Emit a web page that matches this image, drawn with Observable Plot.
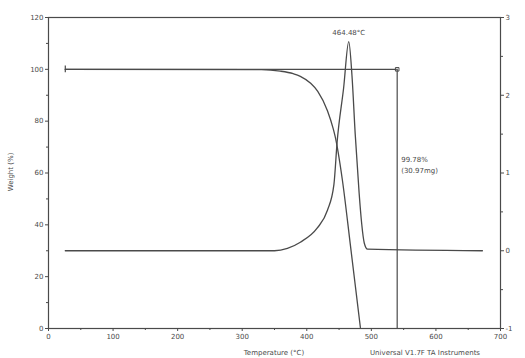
<!DOCTYPE html>
<html>
<head>
<meta charset="utf-8">
<script src="https://cdn.jsdelivr.net/npm/d3@7"></script>
<script src="https://cdn.jsdelivr.net/npm/@observablehq/plot@0.6"></script>
<style>
  body { margin: 0; background: #fff; }
  #chart { width: 525px; height: 358px; }
  svg { font-family: "DejaVu Sans", sans-serif; }
</style>
</head>
<body>
<div id="chart"></div>
<script>
// Weight (%) vs temperature (°C)
const weightT = [26, 330, 359, 379, 390, 406, 417, 432, 441, 444, 455, 468, 483];
const weightW = [100, 99.9, 99.3, 98.3, 97.3, 94.6, 91.5, 84, 77, 74, 57.5, 31.2, 0.4];
// Derivative weight (%/°C) vs temperature
const derivT = [26, 350, 370, 390, 416, 432, 442, 447, 457, 465, 470, 475, 481, 485, 489, 494, 672];
const derivD = [0, 0, 0.03, 0.11, 0.29, 0.52, 0.85, 1.40, 2.09, 2.69, 2.25, 1.50, 0.75, 0.35, 0.10, 0.02, 0];
// Axis ticks
const xTicks = [0, 100, 200, 300, 400, 500, 600, 700];
const yTicks = [0, 20, 40, 60, 80, 100, 120];
const derivTicks = [-1, 0, 1, 2, 3];
// Annotations
const peakLabel = "464.48°C";
const peakT = 465, peakD = 2.69;
const stepT = 540, stepTop = 100, stepBottom = 0;
const stepLabels = ["99.78%", "(30.97mg)"];
const xTitle = "Temperature (°C)";
const yTitle = "Weight (%)";
const footer = "Universal V1.7F TA Instruments";

// map derivative to left-axis units: -1 -> 0 %, 3 -> 120 %
const toW = d => 30 + 30 * d;

const weight = weightT.map((t, i) => ({t, w: weightW[i]}));
const deriv = derivT.map((t, i) => ({t, w: toW(derivD[i])}));

const ink = "#4a4a4a";
const blank = () => "";
const chart = Plot.plot({
  width: 525, height: 358,
  marginLeft: 48, marginRight: 25, marginTop: 17, marginBottom: 30,
  x: {type: "linear", domain: [0, 700]},
  y: {type: "linear", domain: [0, 120]},
  style: {fontSize: "7px", color: ink, background: "#fff"},
  marks: [
    Plot.frame({stroke: ink, strokeWidth: 1.2}),
    // left axis
    Plot.axisY(yTicks, {anchor: "left", tickSize: 3, tickPadding: 2, fontSize: 7, label: null, stroke: ink}),
    Plot.axisY(d3.range(10, 120, 20), {anchor: "left", tickSize: 2, tickFormat: blank, label: null, stroke: ink}),
    // right axis
    Plot.axisY(derivTicks.map(toW), {anchor: "right", tickSize: 3, tickPadding: 2, fontSize: 7, label: null,
      tickFormat: w => String(Math.round((w - 30) / 30)), stroke: ink}),
    Plot.axisY(d3.range(-0.5, 3, 1).map(toW), {anchor: "right", tickSize: 2, tickFormat: blank, label: null, stroke: ink}),
    // bottom axis
    Plot.axisX(xTicks, {anchor: "bottom", tickSize: 3, tickPadding: 3, fontSize: 7, label: null, stroke: ink}),
    Plot.axisX(d3.range(50, 700, 100), {anchor: "bottom", tickSize: 2, tickFormat: blank, label: null, stroke: ink}),
    // curves
    Plot.line(weight, {x: "t", y: "w", stroke: ink, strokeWidth: 1.3, curve: "monotone-x", clip: true}),
    Plot.line(deriv, {x: "t", y: "w", stroke: ink, strokeWidth: 1.3, curve: "monotone-x"}),
    // step annotation
    Plot.ruleY([stepTop], {x1: weightT[0], x2: stepT, stroke: ink, strokeWidth: 1.2}),
    Plot.ruleX([stepT], {y1: stepTop, y2: stepBottom, stroke: ink, strokeWidth: 1.2}),
    Plot.ruleX([weightT[0]], {y1: stepTop - 1.3, y2: stepTop + 1.3, stroke: ink, strokeWidth: 1.2}),
    Plot.dot([{t: stepT, w: stepTop}], {x: "t", y: "w", r: 2, symbol: "square", stroke: ink, strokeWidth: 1}),
    Plot.text([stepLabels[0]], {x: stepT, y: 65, dx: 4, text: d => d, textAnchor: "start", fontSize: 7, fill: ink}),
    Plot.text([stepLabels[1]], {x: stepT, y: 61, dx: 4, text: d => d, textAnchor: "start", fontSize: 7, fill: ink}),
    // peak label
    Plot.text([peakLabel], {x: peakT, y: toW(peakD), dy: -9, text: d => d, fontSize: 7, fill: ink})
  ]
});

// outer titles inside svg area
const svg = d3.select(chart);
svg.append("text").attr("x", 274).attr("y", 355).attr("text-anchor", "middle")
  .attr("font-size", 7).attr("fill", ink).text(xTitle);
svg.append("text").attr("x", 370).attr("y", 355).attr("text-anchor", "start")
  .attr("font-size", 7).attr("fill", ink).text(footer);
svg.append("text").attr("transform", "translate(13,172) rotate(-90)").attr("text-anchor", "middle")
  .attr("font-size", 7).attr("fill", ink).text(yTitle);

document.getElementById("chart").appendChild(chart);
</script>
</body>
</html>
